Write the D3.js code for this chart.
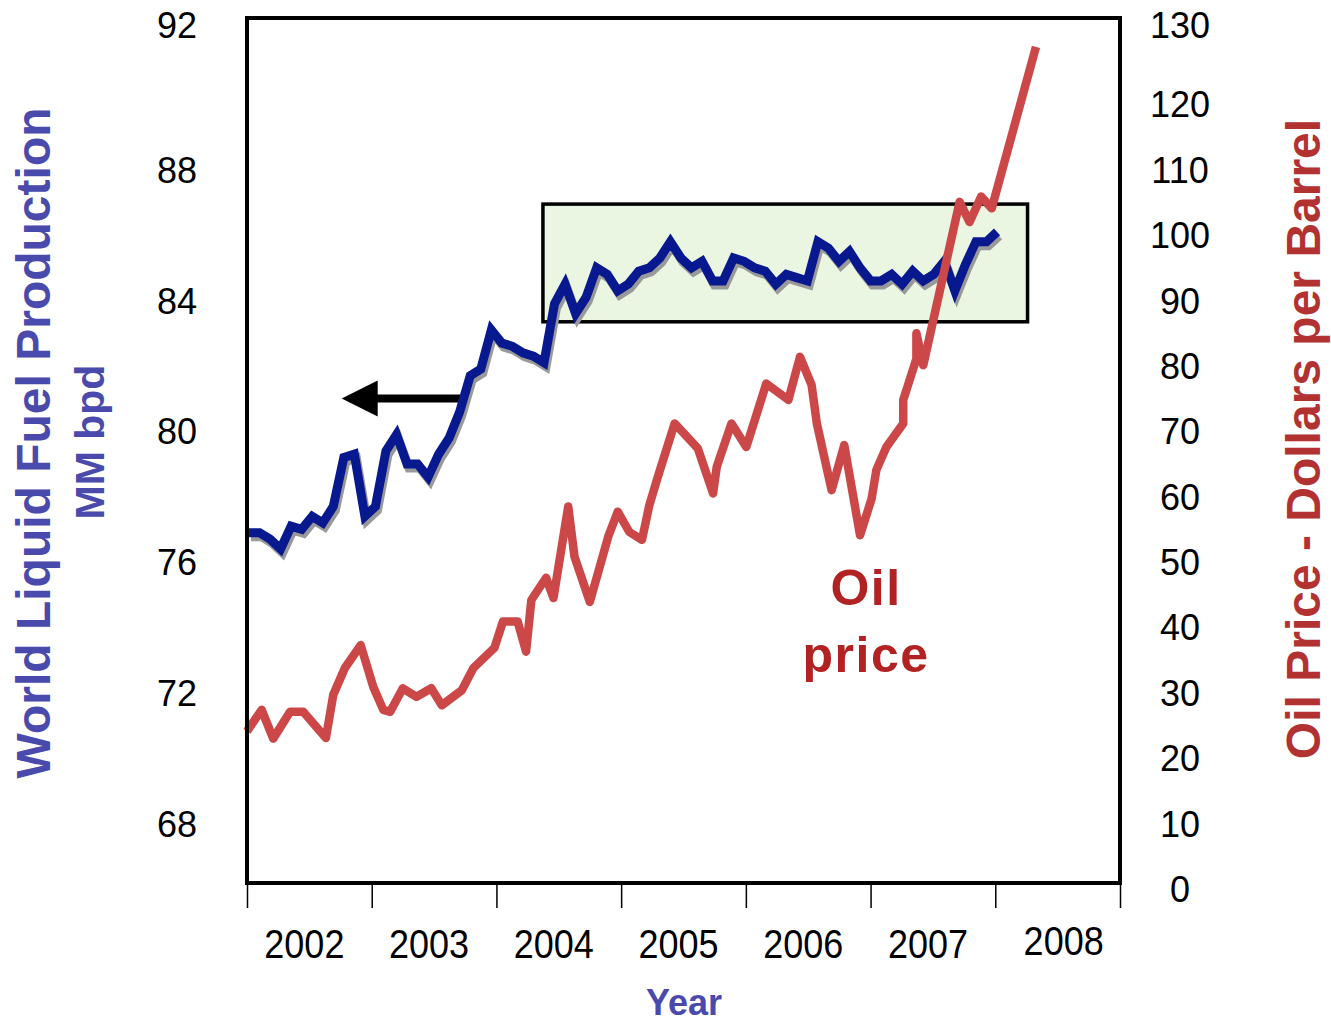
<!DOCTYPE html>
<html>
<head>
<meta charset="utf-8">
<script src="https://cdnjs.cloudflare.com/ajax/libs/d3/7.8.5/d3.min.js"></script>
<style>
body { margin: 0; background: #fff; }
text { font-family: "Liberation Sans", Arial, sans-serif; }
</style>
</head>
<body>
<div id="chart"></div>
<script>
// World liquid fuel production vs oil price, 2002 - 2008
var years = [2002, 2003, 2004, 2005, 2006, 2007, 2008];
var leftTicks = [68, 72, 76, 80, 84, 88, 92];
var rightTicks = [0, 10, 20, 30, 40, 50, 60, 70, 80, 90, 100, 110, 120, 130];

// monthly production Jan 2002 - Dec 2007, MM bpd
var production = [
  76.9, 76.9, 76.7, 76.4, 77.1, 77.0, 77.4, 77.2, 77.7, 79.2, 79.3, 77.4,
  77.7, 79.4, 79.9, 79.0, 79.0, 78.6, 79.3, 79.8, 80.6, 81.7, 81.9, 83.1,
  82.7, 82.6, 82.4, 82.3, 82.1, 83.9, 84.5, 83.6, 84.1, 85.0, 84.8, 84.3,
  84.5, 84.9, 85.0, 85.3, 85.8, 85.3, 85.0, 85.2, 84.6, 84.6, 85.3, 85.2,
  85.0, 84.9, 84.5, 84.8, 84.7, 84.6, 85.8, 85.6, 85.2, 85.5, 85.0, 84.6,
  84.6, 84.8, 84.5, 84.9, 84.6, 84.8, 85.2, 84.3, 85.1, 85.8, 85.8, 86.1
];

// oil price: months since Jan 2002 and $ per barrel
var priceMonth = [
  -0.2, 1.2, 2.3, 3.9, 5.15, 7.3, 8.0, 9.1, 10.6, 11.8, 12.75, 13.4,
  14.6, 15.9, 17.3, 18.3, 20.2, 21.3, 23.3, 24.1, 25.5, 26.3, 26.8, 28.2,
  28.9, 30.3, 30.9, 32.35, 34.1, 35.0, 36.1, 37.3, 38.0, 38.8, 40.4, 42.6,
  44.05, 44.4, 45.8, 47.2, 49.1, 51.2, 52.3, 53.4, 53.9, 55.3, 56.5, 58.0,
  59.1, 59.55, 60.5, 62.1, 62.1, 63.35, 63.35, 64.0, 67.45, 68.4, 69.5, 70.5,
  74.7
];
var priceValue = [
  24.1, 27.4, 23.0, 27.1, 27.1, 23.1, 29.7, 33.8, 37.3, 30.9, 27.4, 27.1,
  30.7, 29.4, 30.7, 28.1, 30.4, 33.8, 36.9, 40.9, 40.9, 36.3, 44.2, 47.6,
  44.5, 58.5, 50.8, 43.9, 53.9, 57.7, 54.6, 53.4, 58.7, 63.0, 71.2, 67.4,
  60.5, 64.6, 71.2, 67.6, 77.3, 74.8, 81.4, 77.1, 71.2, 61.0, 67.9, 54.1,
  59.7, 64.1, 67.6, 71.2, 74.8, 81.1, 85.0, 80.1, 105.1, 102.0, 105.9, 104.1,
  128.8
];

var svgWidth = 1331;
var svgHeight = 1023;
var plot = { left: 247, right: 1120, top: 18, bottom: 883 };

var svg = d3.select("#chart")
  .append("svg")
  .attr("width", svgWidth)
  .attr("height", svgHeight);

// scales
var xYear = d3.scaleLinear().domain([2002, 2009]).range([plot.left, plot.right]);
var xMonth = d3.scaleLinear().domain([0, 71]).range([249, 997]);
var yPrice = d3.scaleLinear().domain([0, 130]).range([889, 39]);
var yProd = d3.scaleLinear().domain([66, 92]).range([889, 39]);

// plot frame
svg.append("rect")
  .attr("x", plot.left)
  .attr("y", plot.top)
  .attr("width", plot.right - plot.left)
  .attr("height", plot.bottom - plot.top)
  .attr("fill", "#fff");

// plateau box
svg.append("rect")
  .attr("x", xMonth(27.9))
  .attr("y", yProd(86.95))
  .attr("width", xMonth(73.9) - xMonth(27.9))
  .attr("height", yProd(83.35) - yProd(86.95))
  .attr("fill", "#eaf6e1")
  .attr("stroke", "#000")
  .attr("stroke-width", 3.5);

// arrow pointing to left axis
svg.append("line")
  .attr("x1", xMonth(20.6))
  .attr("x2", xMonth(11.8))
  .attr("y1", yProd(81.0))
  .attr("y2", yProd(81.0))
  .attr("stroke", "#000")
  .attr("stroke-width", 8);
var tipX = xMonth(8.8), tipY = yProd(81.0);
svg.append("path")
  .attr("d", `M${tipX},${tipY} L${tipX + 36},${tipY - 18} L${tipX + 36},${tipY + 18} Z`)
  .attr("fill", "#000");

// production line with shadow
var prodLine = d3.line()
  .x((d, i) => xMonth(i))
  .y(d => yProd(d));

svg.append("path")
  .datum(production)
  .attr("d", prodLine)
  .attr("transform", "translate(2,4)")
  .attr("fill", "none")
  .attr("stroke", "#999")
  .attr("stroke-width", 9);

svg.append("path")
  .datum(production)
  .attr("d", prodLine)
  .attr("fill", "none")
  .attr("stroke", "#08188e")
  .attr("stroke-width", 9);

// oil price line
var priceData = priceMonth.map((m, i) => ({ m: m, v: priceValue[i] }));
var priceLine = d3.line()
  .x(d => xMonth(d.m))
  .y(d => yPrice(d.v));

svg.append("path")
  .datum(priceData)
  .attr("d", priceLine)
  .attr("fill", "none")
  .attr("stroke", "#cc4848")
  .attr("stroke-width", 8.5)
  .attr("stroke-linejoin", "round");

// frame border on top
svg.append("rect")
  .attr("x", plot.left)
  .attr("y", plot.top)
  .attr("width", plot.right - plot.left)
  .attr("height", plot.bottom - plot.top)
  .attr("fill", "none")
  .attr("stroke", "#000")
  .attr("stroke-width", 4);

// x axis tick marks
var xAxis = d3.axisBottom(xYear)
  .tickValues(d3.range(2002, 2010))
  .tickSize(25)
  .tickFormat("");
var xg = svg.append("g")
  .attr("transform", `translate(0, ${plot.bottom})`)
  .call(xAxis);
xg.select(".domain").remove();
xg.selectAll(".tick line").attr("stroke", "#000").attr("stroke-width", 1.5);

// year labels between ticks (narrow face)
svg.selectAll(".yearLabel")
  .data(years)
  .enter()
  .append("text")
  .attr("class", "yearLabel")
  .attr("transform", d => `translate(${xYear(d + 0.5) + (d === 2008 ? 6 : -5)}, ${d === 2008 ? 955 : 958}) scale(0.9,1)`)
  .attr("text-anchor", "middle")
  .attr("font-size", 40)
  .attr("fill", "#000")
  .text(d => d);

// left axis labels
var leftAxis = d3.axisLeft(yProd)
  .tickValues(leftTicks)
  .tickSize(0)
  .tickPadding(0);
var lg = svg.append("g")
  .attr("transform", "translate(197, 0)")
  .call(leftAxis);
lg.select(".domain").remove();
lg.selectAll("text")
  .attr("font-size", 36)
  .attr("font-family", "Liberation Sans, Arial, sans-serif")
  .attr("fill", "#000")
  .attr("dy", "0.36em");
lg.selectAll(".tick")
  .attr("transform", d => `translate(0, ${yProd(d) < 45 ? 25 : yProd(d)})`);

// right axis labels
var rightAxis = d3.axisRight(yPrice)
  .tickValues(rightTicks)
  .tickSize(0)
  .tickPadding(0);
var rg = svg.append("g")
  .attr("transform", "translate(1180, 0)")
  .call(rightAxis);
rg.select(".domain").remove();
rg.selectAll("text")
  .attr("text-anchor", "middle")
  .attr("font-size", 36)
  .attr("font-family", "Liberation Sans, Arial, sans-serif")
  .attr("fill", "#000")
  .attr("dy", "0.36em");
rg.selectAll(".tick")
  .attr("transform", d => `translate(0, ${yPrice(d) < 45 ? 25 : yPrice(d)})`);

// axis titles
svg.append("text")
  .attr("transform", "translate(50, 443) rotate(-90)")
  .attr("text-anchor", "middle")
  .attr("font-size", 48)
  .attr("font-weight", "bold")
  .attr("fill", "#4a4aad")
  .text("World Liquid Fuel Production");

svg.append("text")
  .attr("transform", "translate(104, 442) rotate(-90)")
  .attr("text-anchor", "middle")
  .attr("font-size", 41)
  .attr("font-weight", "bold")
  .attr("fill", "#4a4aad")
  .text("MM bpd");

svg.append("text")
  .attr("transform", "translate(1320, 439) rotate(-90)")
  .attr("text-anchor", "middle")
  .attr("font-size", 48)
  .attr("font-weight", "bold")
  .attr("fill", "#b23232")
  .text("Oil Price - Dollars per Barrel");

svg.append("text")
  .attr("x", 684)
  .attr("y", 1015)
  .attr("text-anchor", "middle")
  .attr("font-size", 36)
  .attr("font-weight", "bold")
  .attr("fill", "#4a4aad")
  .text("Year");

// series annotation
svg.append("text")
  .attr("x", 866)
  .attr("y", 605)
  .attr("text-anchor", "middle")
  .attr("font-size", 50)
  .attr("font-weight", "bold")
  .attr("letter-spacing", 1.5)
  .attr("fill", "#b22222")
  .text("Oil");
svg.append("text")
  .attr("x", 866)
  .attr("y", 672)
  .attr("text-anchor", "middle")
  .attr("font-size", 50)
  .attr("font-weight", "bold")
  .attr("letter-spacing", 1.5)
  .attr("fill", "#b22222")
  .text("price");
</script>
</body>
</html>
